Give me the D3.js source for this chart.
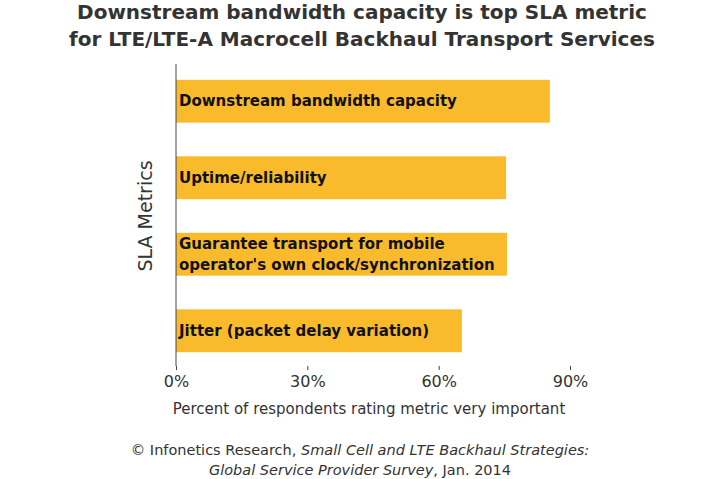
<!DOCTYPE html>
<html><head><meta charset="utf-8">
<script src="https://cdn.jsdelivr.net/npm/d3@7"></script>
<style>body{margin:0;background:#fff}</style></head>
<body><svg id="c" width="720" height="479"></svg>
<script>
const categories=["Downstream bandwidth capacity","Uptime/reliability","Guarantee transport for mobile|operator's own clock/synchronization","Jitter (packet delay variation)"];
const values=[85.4,75.4,75.6,65.3];
const tickValues=[0,30,60,90];
const svg=d3.select("#c");
const font="DejaVu Sans, sans-serif";
const x=d3.scaleLinear().domain([0,90]).range([176,570]);
const y=d3.scaleBand().domain(categories).range([63,369]).paddingInner(0.44).paddingOuter(0.22);
svg.append("g").attr("font-family",font).attr("font-weight","bold").attr("font-size",20).attr("fill","#333").attr("text-anchor","middle")
 .selectAll("text").data(["Downstream bandwidth capacity is top SLA metric","for LTE/LTE-A Macrocell Backhaul Transport Services"]).join("text")
 .attr("x",362).attr("y",(d,i)=>19+i*27).text(d=>d);
svg.selectAll("rect.b").data(categories).join("rect").attr("class","b")
 .attr("x",x(0)).attr("y",d=>y(d)).attr("height",y.bandwidth()).attr("width",(d,i)=>x(values[i])-x(0)).attr("fill","#F9BB2B");
categories.forEach((c,i)=>{
 const lines=c.split("|");
 const t=svg.append("text").attr("font-family",font).attr("font-weight","bold").attr("font-size",15).attr("fill","#111");
 lines.forEach((l,j)=>t.append("tspan").attr("x",179).attr("y",y(c)+y.bandwidth()/2+5+(j-(lines.length-1)/2)*21).text(l));
});
const ax=svg.append("g").attr("transform","translate(0,366)").call(d3.axisBottom(x).tickValues(tickValues).tickFormat(d=>d+"%").tickSize(4).tickSizeOuter(0));
ax.select(".domain").remove();
ax.selectAll("text").attr("font-family",font).attr("font-size",16).attr("fill","#333").attr("dy","0.9em");
ax.selectAll("line").attr("stroke","#444");
svg.append("line").attr("x1",x(0)).attr("x2",x(0)).attr("y1",64).attr("y2",366).attr("stroke","#444");
svg.append("text").attr("font-family",font).attr("font-size",19).attr("fill","#333").attr("text-anchor","middle")
 .attr("transform","translate(152,216) rotate(-90)").text("SLA Metrics");
svg.append("text").attr("font-family",font).attr("font-size",15).attr("fill","#333").attr("text-anchor","middle").attr("x",369).attr("y",414).text("Percent of respondents rating metric very important");
const f1=svg.append("text").attr("font-family",font).attr("font-size",14.5).attr("fill","#333").attr("text-anchor","middle").attr("x",360).attr("y",455);
f1.append("tspan").text("© Infonetics Research, ");
f1.append("tspan").attr("font-style","italic").text("Small Cell and LTE Backhaul Strategies:");
const f2=svg.append("text").attr("font-family",font).attr("font-size",14.5).attr("fill","#333").attr("text-anchor","middle").attr("x",360).attr("y",475);
f2.append("tspan").attr("font-style","italic").text("Global Service Provider Survey");
f2.append("tspan").text(", Jan. 2014");
</script></body></html>
